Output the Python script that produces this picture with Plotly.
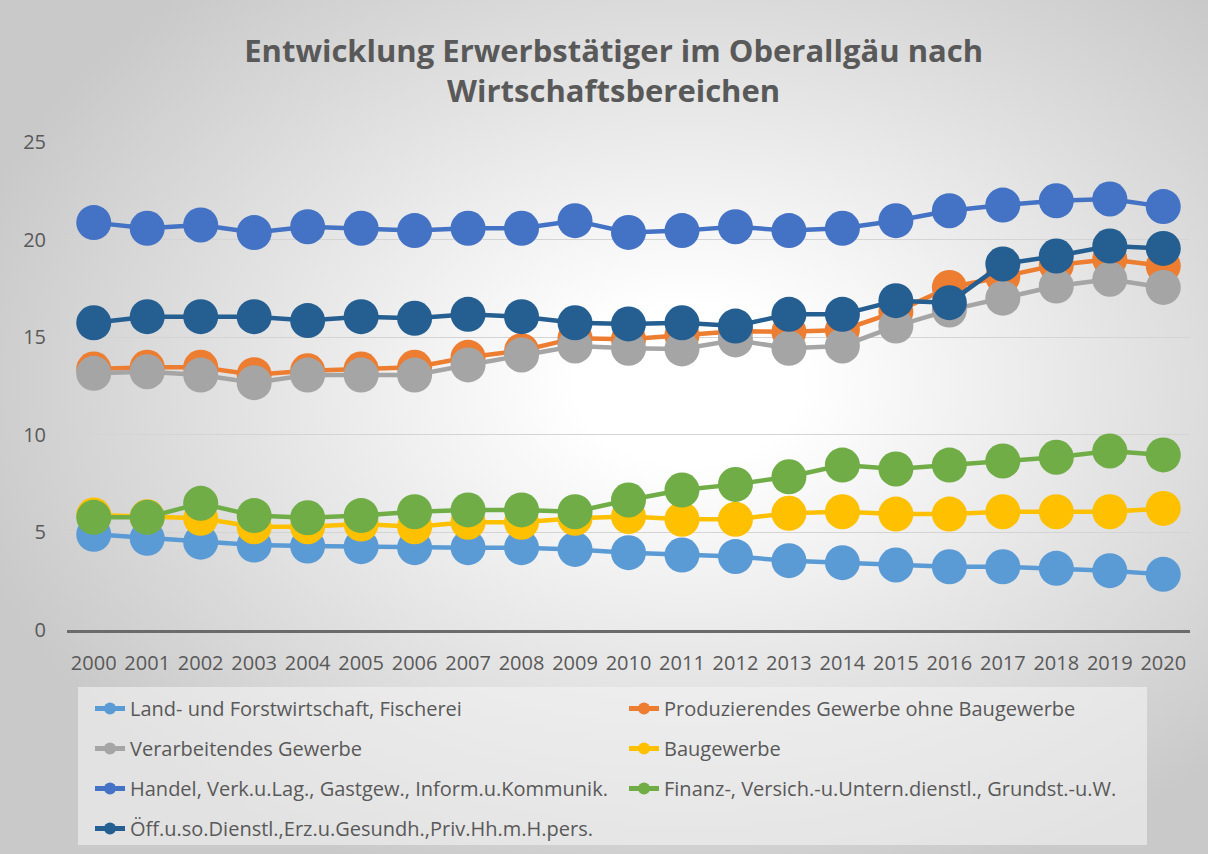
import base64
import plotly.graph_objects as go

years = [str(y) for y in range(2000, 2021)]

land = [4.9, 4.7, 4.5, 4.35, 4.3, 4.27, 4.22, 4.22, 4.22, 4.13, 3.96, 3.84, 3.76, 3.55, 3.45, 3.33, 3.24, 3.24, 3.16, 3.04, 2.85]
prod = [13.37, 13.46, 13.46, 13.08, 13.28, 13.37, 13.46, 13.97, 14.31, 14.95, 14.9, 15.1, 15.3, 15.28, 15.37, 16.3, 17.55, 18.1, 18.7, 18.99, 18.65]
verarb = [13.15, 13.23, 13.06, 12.67, 13.06, 13.06, 13.06, 13.58, 14.09, 14.55, 14.43, 14.4, 14.86, 14.43, 14.55, 15.57, 16.39, 17.0, 17.62, 17.97, 17.55]
bau = [5.89, 5.8, 5.72, 5.29, 5.29, 5.43, 5.29, 5.52, 5.52, 5.72, 5.81, 5.67, 5.67, 5.98, 6.06, 5.94, 5.94, 6.06, 6.06, 6.06, 6.23]
handel = [20.87, 20.58, 20.75, 20.36, 20.66, 20.58, 20.46, 20.58, 20.58, 20.97, 20.37, 20.46, 20.66, 20.46, 20.58, 20.97, 21.48, 21.77, 21.99, 22.08, 21.69]
finanz = [5.77, 5.77, 6.49, 5.86, 5.75, 5.86, 6.06, 6.15, 6.15, 6.06, 6.66, 7.17, 7.46, 7.85, 8.45, 8.25, 8.45, 8.66, 8.85, 9.17, 8.97]
oeff = [15.74, 16.05, 16.05, 16.05, 15.85, 16.05, 15.97, 16.17, 16.05, 15.74, 15.68, 15.74, 15.57, 16.17, 16.17, 16.87, 16.77, 18.75, 19.16, 19.67, 19.55]

series = [
    ("Land- und Forstwirtschaft, Fischerei", land, "#5B9BD5", "legend"),
    ("Produzierendes Gewerbe ohne Baugewerbe", prod, "#ED7D31", "legend2"),
    ("Verarbeitendes Gewerbe", verarb, "#A5A5A5", "legend"),
    ("Baugewerbe", bau, "#FFC000", "legend2"),
    ("Handel, Verk.u.Lag., Gastgew., Inform.u.Kommunik.", handel, "#4472C4", "legend"),
    ("Finanz-, Versich.-u.Untern.dienstl., Grundst.-u.W.", finanz, "#70AD47", "legend2"),
    ("Öff.u.so.Dienstl.,Erz.u.Gesundh.,Priv.Hh.m.H.pers.", oeff, "#255E91", "legend"),
]

TXT = "#595959"
FONT = "Open Sans"

fig = go.Figure()
for i, (name, vals, col, lg) in enumerate(series):
    fig.add_trace(go.Scatter(
        x=years, y=vals, name=name, mode="lines+markers",
        line=dict(color=col, width=4.5),
        marker=dict(color=col, size=35, line=dict(width=0)),
        legend=lg, legendgroup=f"g{i}",
    ))

svg = (
    "<svg xmlns='http://www.w3.org/2000/svg' width='1208' height='854' preserveAspectRatio='none'>"
    "<defs><radialGradient id='g' cx='0.57' cy='0.45' r='0.62'>"
    "<stop offset='0' stop-color='#ffffff'/>"
    "<stop offset='0.15' stop-color='#ffffff'/>"
    "<stop offset='1' stop-color='#c9c9c9'/>"
    "</radialGradient></defs>"
    "<rect width='1208' height='854' fill='url(#g)'/></svg>"
)
src = "data:image/svg+xml;base64," + base64.b64encode(svg.encode()).decode()

W, H = 1208, 854
L, R, T, B = 67, 18, 142, 224
pw, ph = W - L - R, H - T - B

def px(x):
    return (x - L) / pw

def py(y):
    return (H - B - y) / ph

legend_common = dict(
    orientation="v", bgcolor="rgba(0,0,0,0)", borderwidth=0,
    font=dict(family=FONT, size=20, color=TXT),
    tracegroupgap=11, itemsizing="constant",
    xanchor="left", yanchor="top", itemclick=False,
)

fig.update_layout(
    width=W, height=H,
    margin=dict(l=L, r=R, t=T, b=B, autoexpand=False),
    paper_bgcolor="#d6d6d6",
    plot_bgcolor="rgba(0,0,0,0)",
    title=dict(
        text="Entwicklung Erwerbstätiger im Oberallgäu nach<br>Wirtschaftsbereichen",
        x=0.508, xanchor="center", y=1 - 62 / H, yanchor="top",
        font=dict(family=FONT, size=31, color=TXT, weight="bold"),
    ),
    images=[dict(
        source=src, xref="paper", yref="paper",
        x=px(0), y=py(0), sizex=W / pw, sizey=H / ph,
        sizing="stretch", layer="below", xanchor="left", yanchor="top",
    )],
    shapes=[dict(
        type="rect", xref="paper", yref="paper",
        x0=px(78), x1=px(1147), y0=py(687), y1=py(845),
        fillcolor="rgba(244,244,244,0.6)", line=dict(width=0), layer="below",
    )],
    legend=dict(x=px(90), y=py(689), **legend_common),
    legend2=dict(x=px(624), y=py(689), **legend_common),
    showlegend=True,
    xaxis=dict(
        type="category", range=[-0.5, 20.5], showgrid=False, showline=True, linewidth=3,
        linecolor="#6b6b6b", ticks="", ticklabelstandoff=13,
        tickfont=dict(family=FONT, size=20, color=TXT),
        fixedrange=True,
    ),
    yaxis=dict(
        range=[0, 25], dtick=5, showgrid=True, gridcolor="#d4d4d4", gridwidth=1,
        zeroline=False, ticks="", ticklabelstandoff=20,
        tickfont=dict(family=FONT, size=20, color=TXT),
        fixedrange=True,
    ),
)

fig.write_html(
    "out.html",
    config={"displayModeBar": False},
    post_script="document.body.style.margin='0';",
)
